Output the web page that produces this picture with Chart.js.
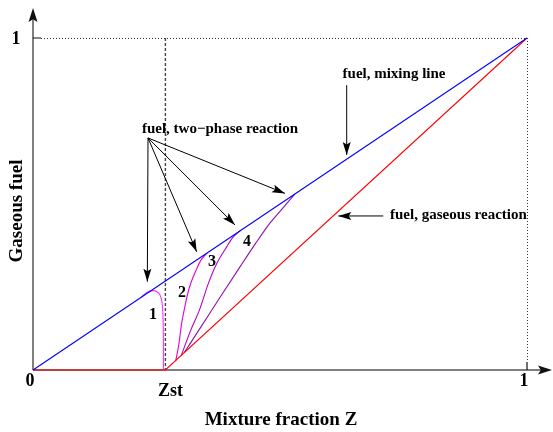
<!DOCTYPE html>
<html>
<head>
<meta charset="utf-8">
<script src="https://cdn.jsdelivr.net/npm/chart.js@4.4.0/dist/chart.umd.min.js"></script>
<style>
  html, body { margin: 0; padding: 0; background: #fff; }
  #wrap { width: 553px; height: 432px; }
</style>
</head>
<body>
<div id="wrap"><canvas id="chart"></canvas></div>
<script>
// ============================
// Data (mixture fraction Z, gaseous fuel)
// ============================
const zst = 0.268;

const mixingZ = [0, 1];
const mixingY = [0, 1];

const gaseousZ = [0, zst, 1];
const gaseousY = [0, 0, 1];

const curve1Z = [0.219, 0.227, 0.235, 0.243, 0.251, 0.257, 0.261, 0.263, 0.264, 0.264];
const curve1Y = [0.219, 0.230, 0.237, 0.239, 0.236, 0.226, 0.205, 0.166, 0.09, 0];

const curve2Z = [0.289, 0.295, 0.301, 0.308, 0.314, 0.321, 0.330, 0.340, 0.352];
const curve2Y = [0.029, 0.075, 0.141, 0.195, 0.235, 0.268, 0.300, 0.331, 0.352];

const curve3Z = [0.300, 0.318, 0.338, 0.355, 0.372, 0.392, 0.405, 0.419];
const curve3Y = [0.043, 0.115, 0.185, 0.261, 0.321, 0.371, 0.400, 0.419];

const curve4Z = [0.306, 0.34, 0.38, 0.42, 0.45, 0.48, 0.51, 0.53];
const curve4Y = [0.052, 0.13, 0.222, 0.313, 0.38, 0.443, 0.495, 0.53];

// tick labels on the axes
const xTickValues = [0, zst, 1];
const xTickLabels = ["0", "Zst", "1"];
const yTickValues = [1];
const yTickLabels = ["1"];

// arrow annotations: [fromZ, fromY, toZ, toY]
const twoPhaseArrows = [
  [0.2328, 0.699, 0.2314, 0.266],
  [0.2328, 0.699, 0.3314, 0.356],
  [0.2328, 0.699, 0.4089, 0.437],
  [0.2328, 0.699, 0.5101, 0.532],
];
const mixingArrow = [0.635, 0.858, 0.635, 0.648];
const gaseousArrow = [0.709, 0.464, 0.618, 0.464];

// ============================
// Helpers
// ============================
function toPoints(xs, ys) {
  return xs.map((x, i) => ({ x, y: ys[i] }));
}

function curve(xs, ys, color, smooth) {
  const ds = {
    data: toPoints(xs, ys),
    showLine: true,
    borderColor: color,
    borderWidth: 1.1,
    pointRadius: 0,
    tension: 0,
    fill: false,
  };
  if (smooth === "monotone") {
    ds.cubicInterpolationMode = "monotone";
  } else if (smooth) {
    ds.tension = smooth;
  }
  return ds;
}

function arrowHead(ctx, x0, y0, x1, y1, len, half) {
  const a = Math.atan2(y1 - y0, x1 - x0);
  const c = Math.cos(a), s = Math.sin(a);
  const bx = x1 - len * c, by = y1 - len * s;
  const nx = x1 - len * 0.8 * c, ny = y1 - len * 0.8 * s;
  ctx.beginPath();
  ctx.moveTo(x1, y1);
  ctx.lineTo(bx - half * s, by + half * c);
  ctx.lineTo(nx, ny);
  ctx.lineTo(bx + half * s, by - half * c);
  ctx.closePath();
  ctx.fill();
}

function arrow(ctx, x0, y0, x1, y1) {
  ctx.beginPath();
  ctx.moveTo(x0, y0);
  ctx.lineTo(x1, y1);
  ctx.stroke();
  arrowHead(ctx, x0, y0, x1, y1, 13, 4);
}

// ============================
// Axes, guide lines, labels
// ============================
const framePlugin = {
  id: "frame",
  beforeDatasetsDraw(chart) {
    const ctx = chart.ctx;
    const X = (v) => chart.scales.x.getPixelForValue(v);
    const Y = (v) => chart.scales.y.getPixelForValue(v);
    const x0 = X(0), y0 = Y(0), x1 = X(1), y1 = Y(1);
    ctx.save();

    // dotted frame at 1
    ctx.strokeStyle = "#333";
    ctx.lineWidth = 1;
    ctx.setLineDash([1, 2]);
    ctx.beginPath();
    ctx.moveTo(x0 + 8, y1 + 0.5);
    ctx.lineTo(x1, y1 + 0.5);
    ctx.moveTo(x1 + 0.5, y1);
    ctx.lineTo(x1 + 0.5, y0 - 8);
    ctx.stroke();

    // dashed Zst line
    ctx.strokeStyle = "#444";
    ctx.lineWidth = 1.4;
    ctx.setLineDash([3, 2]);
    ctx.beginPath();
    ctx.moveTo(X(zst), y1);
    ctx.lineTo(X(zst), y0);
    ctx.stroke();
    ctx.setLineDash([]);

    // axes
    ctx.strokeStyle = "#555";
    ctx.fillStyle = "#111";
    ctx.lineWidth = 1.5;
    ctx.beginPath();
    ctx.moveTo(x0, y0);
    ctx.lineTo(x0, 14);
    ctx.moveTo(x0, y0);
    ctx.lineTo(546, y0);
    ctx.stroke();
    arrowHead(ctx, x0, y0, x0, 8, 14, 4.5);
    arrowHead(ctx, x0, y0, 552, y0, 14, 4.5);

    // small ticks
    ctx.strokeStyle = "#111";
    ctx.lineWidth = 1.2;
    ctx.beginPath();
    ctx.moveTo(x0, y1);
    ctx.lineTo(x0 + 8, y1);
    ctx.moveTo(x1, y0);
    ctx.lineTo(x1, y0 - 8);
    ctx.stroke();
    ctx.restore();
  },
  afterDatasetsDraw(chart) {
    const ctx = chart.ctx;
    const X = (v) => chart.scales.x.getPixelForValue(v);
    const Y = (v) => chart.scales.y.getPixelForValue(v);
    ctx.save();
    ctx.fillStyle = "#000";
    ctx.strokeStyle = "#000";
    ctx.textAlign = "center";
    ctx.textBaseline = "middle";

    // tick labels
    ctx.font = "bold 18px 'Liberation Serif'";
    xTickValues.forEach((v, i) => {
      const dy = xTickLabels[i] === "Zst" ? 21 : 11;
      const dx = xTickLabels[i] === "Zst" ? 5 : -3;
      ctx.fillText(xTickLabels[i], X(v) + dx, Y(0) + dy);
    });
    yTickValues.forEach((v, i) => {
      ctx.fillText(yTickLabels[i], 16, Y(v) + 1);
    });

    // axis titles
    ctx.font = "bold 19px 'Liberation Serif'";
    ctx.fillText("Mixture fraction Z", 281, 420);
    ctx.save();
    ctx.translate(17, 211);
    ctx.rotate(-Math.PI / 2);
    ctx.fillText("Gaseous fuel", 0, 0);
    ctx.restore();

    // annotations
    ctx.font = "bold 15px 'Liberation Serif'";
    ctx.fillText("fuel, two\u2212phase reaction", 220, 129);
    ctx.fillText("fuel, mixing line", 394, 74);
    ctx.textAlign = "left";
    ctx.fillText("fuel, gaseous reaction", 390, 215);
    ctx.textAlign = "center";

    ctx.lineWidth = 1;
    twoPhaseArrows.concat([mixingArrow, gaseousArrow]).forEach((a) => {
      arrow(ctx, X(a[0]), Y(a[1]), X(a[2]), Y(a[3]));
    });

    // curve numbers
    ctx.font = "bold 16px 'Liberation Serif'";
    ctx.fillText("1", 153, 315);
    ctx.fillText("2", 182, 293);
    ctx.fillText("3", 212, 262);
    ctx.fillText("4", 247, 242);
    ctx.restore();
  },
};

// ============================
// Chart
// ============================
new Chart(document.getElementById("chart"), {
  type: "scatter",
  data: {
    datasets: [
      curve(mixingZ, mixingY, "#0000ff", 0),
      curve(gaseousZ, gaseousY, "#ff0000", 0),
      curve(curve1Z, curve1Y, "#ff33ff", 0.3),
      curve(curve2Z, curve2Y, "#e000e0", "monotone"),
      curve(curve3Z, curve3Y, "#b800c8", "monotone"),
      curve(curve4Z, curve4Y, "#9010a8", "monotone"),
    ],
  },
  options: {
    responsive: true,
    maintainAspectRatio: false,
    animation: false,
    layout: { padding: 0 },
    plugins: { legend: { display: false }, tooltip: { enabled: false } },
    scales: {
      x: { type: "linear", min: -0.0668, max: 1.0526, display: false },
      y: { type: "linear", min: -0.1867, max: 1.1145, display: false },
    },
  },
  plugins: [framePlugin],
});
</script>
</body>
</html>
